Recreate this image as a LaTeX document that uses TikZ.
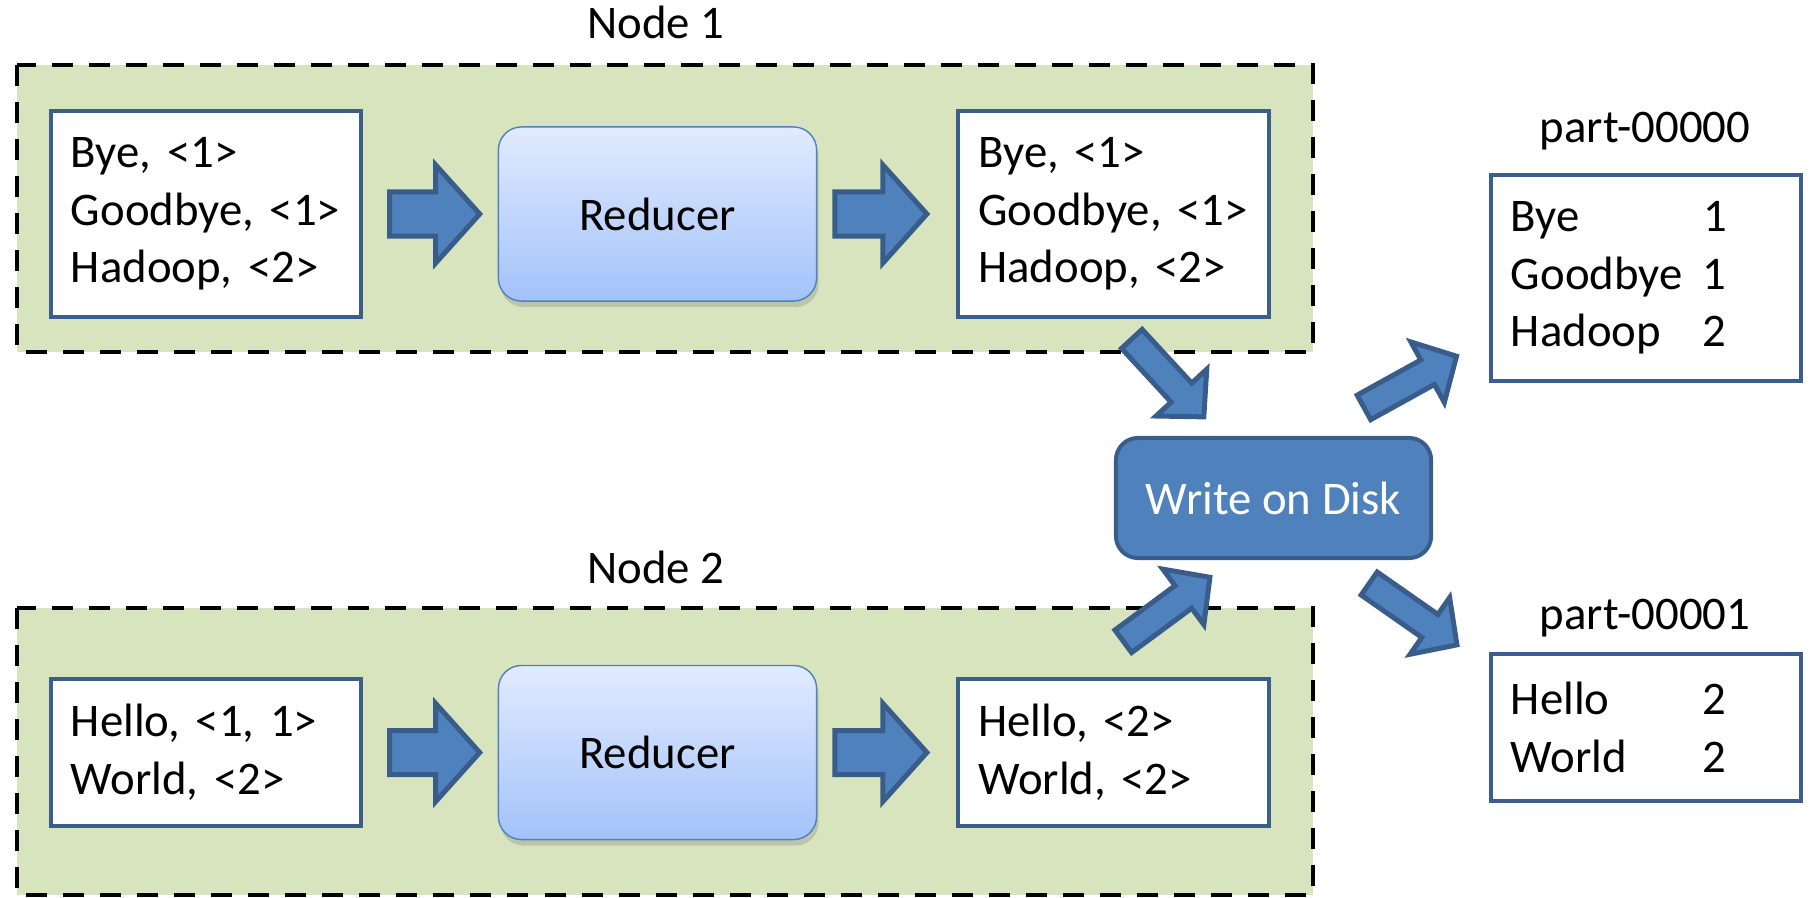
\documentclass[tikz,border=0pt]{standalone}
\usepackage{fontspec}
\setmainfont{Carlito}
\usetikzlibrary{calc,shadows}

\definecolor{boxline}{RGB}{59,94,140}
\definecolor{arrowfill}{RGB}{79,129,189}
\definecolor{arrowline}{RGB}{56,93,138}
\definecolor{nodegreen}{RGB}{215,228,189}
\definecolor{reducertop}{RGB}{225,235,255}
\definecolor{reducerbottom}{RGB}{163,194,249}

% block arrow from #1 to #2, gaps #3 #4, shaft half width #5, head half width #6, head length #7
\newcommand{\blockarrow}[7]{%
  \coordinate (tail) at ($(#1)!#3!(#2)$);
  \coordinate (tip) at ($(#2)!#4!(#1)$);
  \coordinate (neck) at ($(tip)!#7!(tail)$);
  \draw[arrowshape] ($(tail)!#5!90:(tip)$) -- ($(neck)!#5!-90:(tail)$)
    -- ($(neck)!#6!-90:(tail)$) -- (tip) -- ($(neck)!#6!90:(tail)$)
    -- ($(neck)!#5!90:(tail)$) -- ($(tail)!#5!-90:(tip)$) -- cycle;}
\newcommand{\fatarrow}[4]{\blockarrow{#1}{#2}{#3}{#4}{0.22cm}{0.49cm}{0.44cm}}
\newcommand{\slimarrow}[4]{\blockarrow{#1}{#2}{#3}{#4}{0.14cm}{0.345cm}{0.33cm}}
% word and its count in two columns
\newcommand{\wordcount}[2]{\makebox[1.92cm][l]{#1}#2}

\begin{document}
\begin{tikzpicture}
[x=0.01cm,y=-0.01cm,
  every node/.style={font=\fontsize{13.3}{16.4}\selectfont},
  groupframe/.style={draw=black,line width=0.04cm,dash pattern=on 0.21cm off 0.16cm,fill=nodegreen},
  grouplabel/.style={anchor=base},
  listbox/.style={draw=boxline,line width=0.04cm,fill=white,inner xsep=0.2cm,text width=2.7cm,align=left},
  reducerbox/.style={draw=arrowfill,line width=0.4pt,rounded corners=0.23cm,top color=reducertop,bottom color=reducerbottom,
    minimum width=3.18cm,minimum height=1.74cm,drop shadow={opacity=0.3,shadow xshift=0.02cm,shadow yshift=-0.06cm}},
  diskbox/.style={draw=arrowline,line width=0.04cm,fill=arrowfill,rounded corners=0.22cm,text=white,
    minimum width=3.15cm,minimum height=1.2cm},
  arrowshape/.style={draw=arrowline,fill=arrowfill,line width=0.05cm}]
\useasboundingbox (0,0) rectangle (1810,897);
%%% node 1
\draw[groupframe] (17,65) rectangle (1313,352);
\node (lab1) at (656,38) [grouplabel] {Node 1};
\node (a1) at (206,214) [listbox,minimum height=2.06cm] {Bye, <1>\\ Goodbye, <1>\\ Hadoop, <2>};
\node (red1) at (657.5,214) [reducerbox] {Reducer};
\node (b1) at (1113.5,214) [listbox,minimum height=2.06cm] {Bye, <1>\\ Goodbye, <1>\\ Hadoop, <2>};
\fatarrow{a1.east}{red1.west}{0.265cm}{0.18cm}
\fatarrow{red1.east}{b1.west}{0.175cm}{0.295cm}
%
%%% node 2
\draw[groupframe] (17,608) rectangle (1313,895);
\node (lab2) at (656,583) [grouplabel] {Node 2};
\node (a2) at (206,752.5) [listbox,minimum height=1.47cm] {Hello, <1, 1>\\ World, <2>};
\node (red2) at (657.5,752.5) [reducerbox] {Reducer};
\node (b2) at (1113.5,752.5) [listbox,minimum height=1.47cm] {Hello, <2>\\ World, <2>};
\fatarrow{a2.east}{red2.west}{0.265cm}{0.18cm}
\fatarrow{red2.east}{b2.west}{0.175cm}{0.295cm}
%
%%% output files
\node (wd) at (1273.5,498) [diskbox] {Write on Disk};
\node (lab3) at (1645,142) [grouplabel] {part-00000};
\node (p0) at (1646,278) [listbox,minimum height=2.06cm]
  {\wordcount{Bye}{1}\\ \wordcount{Goodbye}{1}\\ \wordcount{Hadoop}{2}};
\node (lab4) at (1645,629) [grouplabel] {part-00001};
\node (p1) at (1646,727.5) [listbox,minimum height=1.47cm]
  {\wordcount{Hello}{2}\\ \wordcount{World}{2}};
% arrows to and from the disk
\slimarrow{b1.south}{wd.130}{0.27cm}{0.26cm}
\slimarrow{b2.117}{wd.237}{0.6cm}{0.29cm}
\slimarrow{wd.58}{p0.201}{0.59cm}{0.37cm}
\slimarrow{wd.-45}{p1.159}{0.41cm}{0.39cm}
\end{tikzpicture}
\end{document}
